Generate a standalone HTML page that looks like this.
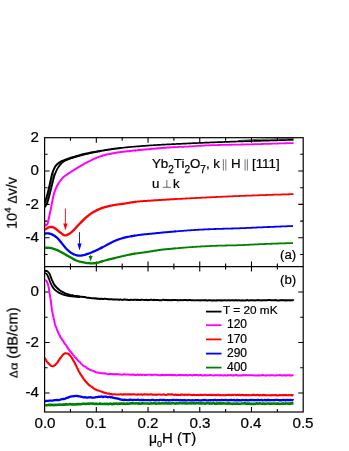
<!DOCTYPE html>
<html><head><meta charset="utf-8"><title>fig</title>
<style>
html,body{margin:0;padding:0;background:#fff;}
body{width:349px;height:451px;position:relative;overflow:hidden;font-family:"Liberation Sans",sans-serif;color:#000;}
.t{position:absolute;will-change:transform;-webkit-text-stroke:0.22px #000;white-space:nowrap;line-height:1;font-family:"Liberation Sans",sans-serif;}
.t sub{-webkit-text-stroke:0.25px #000;font-size:10px;vertical-align:baseline;position:relative;top:5px;line-height:0;}
.r{transform-origin:0 0;transform:rotate(-90deg) translateY(-84.65%);}
.pp{color:#555;font-size:12px;position:relative;top:-0.5px;}
</style></head><body>
<svg width="349" height="451" viewBox="0 0 349 451" style="position:absolute;left:0;top:0">
<g stroke="#000" stroke-width="1.2" fill="none" shape-rendering="auto">
<rect x="44.60" y="137.70" width="258.60" height="274.30"/>
<path d="M44.60 266.55H303.20"/>
</g>
<g stroke="#000" stroke-width="1.1" fill="none">
<path d="M70.46 137.70v3.00M70.46 263.55v6.00M70.46 412.00v-3.00M96.32 137.70v5.00M96.32 261.55v10.00M96.32 412.00v-5.00M122.18 137.70v3.00M122.18 263.55v6.00M122.18 412.00v-3.00M148.04 137.70v5.00M148.04 261.55v10.00M148.04 412.00v-5.00M173.90 137.70v3.00M173.90 263.55v6.00M173.90 412.00v-3.00M199.76 137.70v5.00M199.76 261.55v10.00M199.76 412.00v-5.00M225.62 137.70v3.00M225.62 263.55v6.00M225.62 412.00v-3.00M251.48 137.70v5.00M251.48 261.55v10.00M251.48 412.00v-5.00M277.34 137.70v3.00M277.34 263.55v6.00M277.34 412.00v-3.00M44.60 254.50h3.00M303.20 254.50h-3.00M44.60 237.80h5.00M303.20 237.80h-5.00M44.60 221.10h3.00M303.20 221.10h-3.00M44.60 204.40h5.00M303.20 204.40h-5.00M44.60 187.70h3.00M303.20 187.70h-3.00M44.60 171.00h5.00M303.20 171.00h-5.00M44.60 154.30h3.00M303.20 154.30h-3.00M44.60 393.00h5.00M303.20 393.00h-5.00M44.60 367.75h3.00M303.20 367.75h-3.00M44.60 342.50h5.00M303.20 342.50h-5.00M44.60 317.25h3.00M303.20 317.25h-3.00M44.60 292.00h5.00M303.20 292.00h-5.00"/>
</g>
<defs><clipPath id="cp"><rect x="45.1" y="130" width="260" height="290"/></clipPath></defs>
<g fill="none" stroke-linecap="butt" stroke-linejoin="round" clip-path="url(#cp)">
<path d="M44.60 247.80L45.43 247.78L46.63 247.74L47.96 247.73L49.20 247.80L50.30 247.97L51.37 248.20L52.43 248.48L53.50 248.80L54.58 249.14L55.65 249.52L56.72 249.94L57.80 250.40L58.87 250.90L59.95 251.45L61.03 252.02L62.10 252.61L63.18 253.22L64.25 253.86L65.33 254.51L66.40 255.13L67.47 255.72L68.55 256.29L69.62 256.86L70.70 257.45L71.78 258.08L72.86 258.74L73.93 259.37L75.00 259.92L76.05 260.37L77.10 260.75L78.15 261.09L79.20 261.40L80.27 261.69L81.34 261.95L82.42 262.18L83.50 262.40L84.58 262.61L85.66 262.80L86.73 262.97L87.80 263.10L88.86 263.20L89.92 263.26L90.97 263.30L92.00 263.30L93.01 263.28L93.99 263.23L94.98 263.14L96.00 263.00L96.99 262.80L97.97 262.56L99.04 262.26L100.30 261.90L101.13 261.66L102.03 261.40" stroke="#008000" stroke-width="2.35"/>
<path d="M101.13 261.66L102.03 261.40L102.99 261.11L103.99 260.81L105.03 260.50L106.10 260.20L107.20 259.90L108.19 259.64L109.23 259.38L110.30 259.12L111.39 258.86L112.50 258.59L113.61 258.33L114.71 258.06L115.80 257.80L116.88 257.54L117.95 257.27L119.03 257.00L120.10 256.73L121.17 256.46L122.25 256.20L123.33 255.95L124.40 255.70L125.48 255.46L126.55 255.22L127.62 254.99L128.70 254.77L129.78 254.55L130.85 254.34L131.93 254.14L133.00 253.95L134.08 253.77L135.15 253.61" stroke="#008000" stroke-width="2.20"/>
<path d="M134.08 253.77L135.15 253.61L136.23 253.46L137.31 253.32L138.39 253.18L139.46 253.04L140.53 252.90L141.60 252.75L142.67 252.60L143.76 252.45L144.85 252.30L145.93 252.14L147.00 251.99L148.04 251.84L149.04 251.70L150.00 251.55L151.14 251.36L152.12 251.19L153.06 251.01L154.03 250.84L155.15 250.65L156.50 250.45L157.32 250.34L158.13 250.22L158.97 250.10L159.84 249.98L160.75 249.86L161.73 249.74L162.78 249.61L163.91 249.48L165.15 249.34L166.51 249.20L168.00 249.05L168.80 248.97L169.65 248.89L170.53 248.81L171.46 248.73L172.41 248.64L173.40 248.55L174.41 248.46L175.45 248.37" stroke="#008000" stroke-width="2.00"/>
<path d="M174.41 248.46L175.45 248.37L176.51 248.28L177.59 248.19L178.68 248.09L179.79 248.00L180.90 247.91L182.02 247.82L183.14 247.73L184.26 247.64L185.38 247.55L186.49 247.47L187.59 247.38L188.68 247.30L189.75 247.22L190.80 247.15L191.79 247.08L192.78 247.01L193.77 246.95L194.75 246.88L195.73 246.82L196.71 246.75L197.68 246.69L198.66 246.63L199.64 246.57L200.62 246.51L201.60 246.45L202.58 246.40L203.57 246.34L204.56 246.29L205.56 246.23L206.56 246.18L207.57 246.13L208.58 246.08L209.61 246.03L210.64 245.99L211.68 245.94L212.74 245.89L213.80 245.85L214.75 245.81L215.71 245.78L216.69 245.74L217.67 245.71L218.66 245.68L219.65 245.66L220.66 245.63L221.66 245.61L222.68 245.58L223.70 245.56L224.72 245.54L225.75 245.51L226.77 245.49L227.80 245.47L228.83 245.45L229.86 245.43L230.89 245.40L231.92 245.38L232.95 245.36L233.97 245.33L234.99 245.30L236.00 245.28L237.01 245.25L238.02 245.22L239.01 245.18L240.00 245.15L241.02 245.11L242.03 245.07L243.04 245.03L244.04 244.99L245.03 244.94L246.02 244.90L247.00 244.85L247.98 244.81L248.96 244.76L249.94 244.71L250.92 244.66L251.90 244.61L252.88 244.56L253.86 244.51L254.84 244.46L255.83 244.41L256.82 244.36L257.82 244.31L258.82 244.27L259.83 244.22L260.84 244.17L261.87 244.12L262.90 244.08L263.95 244.03L265.00 243.99L265.97 243.95L266.97 243.91L268.02 243.87L269.09 243.83L270.19 243.79L271.31 243.75L272.45 243.71L273.60 243.67L274.76 243.63L275.93 243.59L277.09 243.55L278.26 243.51L279.42 243.47L280.56 243.43L281.69 243.39L282.80 243.35L283.89 243.32L284.94 243.28L285.97 243.25L286.95 243.21L287.90 243.18L288.80 243.15L289.65 243.12L290.44 243.10L291.18 243.07L291.86 243.05L292.46 243.03L293.00 243.01" stroke="#008000" stroke-width="1.80"/>
<path d="M44.60 233.50L45.43 233.46L46.63 233.39L47.96 233.38L49.20 233.50L50.30 233.77L51.37 234.14L52.43 234.62L53.50 235.20L54.36 235.73L55.22 236.32L56.08 236.97L56.94 237.70L57.80 238.50L58.52 239.25L59.23 240.07L59.95 240.95L60.67 241.85L61.38 242.75L62.10 243.63L62.82 244.50L63.53 245.39L64.25 246.29L64.97 247.16L65.68 247.99L66.40 248.77L67.26 249.63L68.12 250.44L68.98 251.19L69.84 251.88L70.70 252.51L71.78 253.21L72.86 253.81L73.93 254.33L75.00 254.75L76.05 255.08L77.10 255.31L78.15 255.47L79.20 255.55L80.27 255.56L81.34 255.48L82.42 255.34L83.50 255.15L84.58 254.90L85.66 254.57L86.73 254.22L87.80 253.85L88.80 253.50L89.76 253.16L90.78 252.76L92.00 252.25L92.80 251.91L93.65 251.54L94.56 251.14L95.51 250.71L96.50 250.25L97.53 249.76L98.60 249.25L99.47 248.82L100.38 248.37L101.32 247.89L102.29 247.39" stroke="#0000ff" stroke-width="2.35"/>
<path d="M101.32 247.89L102.29 247.39L103.27 246.88L104.26 246.37L105.25 245.85L106.23 245.35L107.20 244.85L108.16 244.35L109.11 243.84L110.07 243.32L111.02 242.81L111.98 242.30L112.93 241.80L113.89 241.32L114.84 240.87L115.80 240.45L116.76 240.06L117.71 239.70L118.67 239.36L119.62 239.04L120.58 238.73L121.53 238.44L122.49 238.17L123.44 237.90L124.40 237.65L125.48 237.38L126.55 237.14L127.62 236.91L128.70 236.71L129.78 236.51L130.85 236.32L131.93 236.14L133.00 235.95L134.08 235.76L135.15 235.59" stroke="#0000ff" stroke-width="2.20"/>
<path d="M134.08 235.76L135.15 235.59L136.23 235.41L137.31 235.24L138.39 235.08L139.46 234.93L140.53 234.79L141.60 234.65L142.59 234.53L143.49 234.44L144.34 234.36L145.21 234.28L146.16 234.20L147.23 234.11L148.49 233.99L150.00 233.85L150.76 233.77L151.55 233.69L152.39 233.61L153.26 233.52L154.17 233.42L155.11 233.32L156.08 233.22L157.08 233.12L158.10 233.01L159.14 232.90L160.21 232.80L161.29 232.69L162.38 232.58L163.49 232.47L164.61 232.36L165.74 232.26L166.87 232.15L168.00 232.05L168.94 231.97L169.89 231.88L170.86 231.80L171.85 231.71L172.85 231.63L173.87 231.54L174.89 231.46L175.93 231.37" stroke="#0000ff" stroke-width="2.00"/>
<path d="M174.89 231.46L175.93 231.37L176.97 231.28L178.03 231.20L179.09 231.11L180.15 231.03L181.22 230.94L182.29 230.86L183.36 230.78L184.44 230.70L185.51 230.62L186.58 230.54L187.64 230.46L188.70 230.39L189.75 230.32L190.80 230.25L191.79 230.19L192.78 230.12L193.77 230.06L194.75 230.00L195.73 229.94L196.71 229.88L197.68 229.83L198.66 229.77L199.64 229.72L200.62 229.67L201.60 229.61L202.58 229.56L203.57 229.51L204.56 229.46L205.56 229.41L206.56 229.37L207.57 229.32L208.58 229.27L209.61 229.23L210.64 229.18L211.68 229.14L212.74 229.09L213.80 229.05L214.75 229.01L215.71 228.98L216.69 228.94L217.67 228.91L218.66 228.88L219.65 228.84L220.66 228.81L221.66 228.78L222.68 228.76L223.70 228.73L224.72 228.70L225.75 228.67L226.77 228.64L227.80 228.62L228.83 228.59L229.86 228.56L230.89 228.53L231.92 228.51L232.95 228.48L233.97 228.45L234.99 228.42L236.00 228.39L237.01 228.35L238.02 228.32L239.01 228.29L240.00 228.25L241.02 228.21L242.03 228.17L243.04 228.13L244.04 228.09L245.03 228.05L246.02 228.01L247.00 227.96L247.98 227.92L248.96 227.88L249.94 227.83L250.92 227.79L251.90 227.74L252.88 227.70L253.86 227.65L254.84 227.61L255.83 227.56L256.82 227.52L257.82 227.47L258.82 227.42L259.83 227.38L260.84 227.33L261.87 227.29L262.90 227.24L263.95 227.19L265.00 227.15L265.97 227.11L266.97 227.07L268.02 227.02L269.09 226.98L270.19 226.93L271.31 226.89L272.45 226.84L273.60 226.79L274.76 226.75L275.93 226.70L277.09 226.65L278.26 226.60L279.42 226.56L280.56 226.51L281.69 226.47L282.80 226.42L283.89 226.38L284.94 226.33L285.97 226.29L286.95 226.25L287.90 226.22L288.80 226.18L289.65 226.15L290.44 226.11L291.18 226.08L291.86 226.06L292.46 226.03L293.00 226.01" stroke="#0000ff" stroke-width="1.80"/>
<path d="M44.60 229.90L45.34 229.38L46.41 228.65L47.50 228.00L48.53 227.48L49.57 227.03L50.60 226.80L52.07 226.97L53.50 227.50L54.39 227.92L55.26 228.46L56.30 229.20L57.06 229.81L57.91 230.54L58.81 231.32L59.72 232.08L60.60 232.76L61.46 233.41L62.32 234.07L63.18 234.67L64.04 235.13L64.90 235.37L65.97 235.31L67.05 234.96L68.12 234.41L69.20 233.78L70.06 233.22L70.92 232.57L71.78 231.86L72.64 231.09L73.50 230.29L74.24 229.56L75.01 228.75L75.78 227.92L76.52 227.09L77.20 226.34L77.80 225.69L78.59 224.86L79.14 224.28L80.00 223.40L80.57 222.82L81.22 222.14L81.95 221.40L82.71 220.62L83.49 219.84L84.26 219.09L85.00 218.40L85.83 217.65L86.67 216.93L87.50 216.23L88.33 215.56L89.17 214.92L90.00 214.30L91.00 213.60L92.00 212.95L93.00 212.34L94.00 211.76L95.00 211.20L96.00 210.66L97.00 210.16L98.00 209.68L99.00 209.22L100.00 208.80L101.00 208.41L102.00 208.05L103.00 207.71" stroke="#ff0000" stroke-width="2.35"/>
<path d="M102.00 208.05L103.00 207.71L104.00 207.40L105.00 207.10L106.00 206.82L107.00 206.57L108.00 206.34L109.00 206.12L110.00 205.90L110.92 205.69L111.76 205.50L112.64 205.32L113.68 205.12L115.00 204.90L115.80 204.78L116.68 204.65L117.63 204.52L118.64 204.38L119.69 204.24L120.76 204.09L121.84 203.95L122.92 203.80L123.98 203.65L125.00 203.50L126.00 203.34L127.00 203.18L128.00 203.01L129.00 202.84L130.00 202.67L131.00 202.50L132.00 202.33L133.00 202.18L134.00 202.03L135.00 201.90L135.96 201.78" stroke="#ff0000" stroke-width="2.20"/>
<path d="M135.00 201.90L135.96 201.78L136.84 201.68L137.68 201.59L138.52 201.51L139.38 201.43L140.28 201.36L141.26 201.28L142.36 201.19L143.59 201.10L145.00 201.00L145.77 200.94L146.59 200.89L147.45 200.83L148.34 200.76L149.27 200.70L150.23 200.64L151.22 200.57L152.23 200.50L153.26 200.44L154.31 200.37L155.38 200.30L156.45 200.23L157.53 200.16L158.61 200.10L159.70 200.03L160.78 199.96L161.85 199.89L162.91 199.83L163.97 199.76L165.00 199.70L165.98 199.64L166.95 199.58L167.92 199.52L168.89 199.47L169.87 199.41L170.84 199.35L171.81 199.29L172.79 199.24L173.77 199.18L174.76 199.12L175.74 199.07" stroke="#ff0000" stroke-width="2.00"/>
<path d="M174.76 199.12L175.74 199.07L176.74 199.01L177.74 198.95L178.74 198.90L179.75 198.84L180.77 198.78L181.80 198.73L182.83 198.67L183.88 198.61L184.93 198.56L186.00 198.50L186.94 198.45L187.90 198.40L188.87 198.35L189.85 198.30L190.84 198.25L191.84 198.20L192.84 198.14L193.85 198.09L194.87 198.04L195.89 197.99L196.91 197.94L197.94 197.89L198.96 197.84L199.99 197.79L201.01 197.74L202.04 197.69L203.06 197.64L204.07 197.59L205.08 197.54L206.08 197.49L207.08 197.44L208.06 197.39L209.04 197.35L210.00 197.30L211.04 197.25L212.05 197.20L213.05 197.15L214.04 197.11L215.02 197.06L215.98 197.02L216.94 196.97L217.89 196.93L218.85 196.88L219.80 196.84L220.75 196.79L221.71 196.75L222.67 196.71L223.64 196.66L224.63 196.62L225.62 196.57L226.63 196.53L227.66 196.48L228.71 196.44L229.78 196.39L230.88 196.35L232.00 196.30L232.90 196.26L233.80 196.22L234.72 196.19L235.64 196.15L236.57 196.11L237.50 196.07L238.45 196.03L239.40 196.00L240.36 195.96L241.33 195.92L242.31 195.88L243.29 195.84L244.28 195.80L245.28 195.76L246.29 195.72L247.30 195.68L248.32 195.64L249.35 195.60L250.38 195.56L251.42 195.53L252.47 195.49L253.53 195.45L254.59 195.41L255.66 195.37L256.73 195.33L257.82 195.29L258.90 195.25L260.00 195.21L260.95 195.18L261.94 195.14L262.96 195.11L264.02 195.07L265.10 195.03L266.21 194.99L267.34 194.96L268.48 194.92L269.65 194.88L270.82 194.84L272.00 194.80L273.19 194.76L274.37 194.72L275.56 194.68L276.74 194.64L277.92 194.61L279.08 194.57L280.23 194.53L281.36 194.49L282.47 194.46L283.55 194.42L284.61 194.39L285.64 194.36L286.63 194.32L287.59 194.29L288.50 194.26L289.37 194.23L290.20 194.21L290.97 194.18L291.69 194.16L292.36 194.14L292.96 194.12L293.50 194.10" stroke="#ff0000" stroke-width="1.80"/>
<path d="M44.50 223.50L45.06 224.62L45.80 225.60L47.20 224.50L47.53 223.93L48.00 222.00L48.15 221.34L48.33 220.57L48.52 219.70L48.73 218.76L48.95 217.75L49.18 216.69L49.42 215.59L49.66 214.46L49.90 213.33L50.14 212.20L50.37 211.08L50.60 210.00L50.81 208.99L51.02 207.94L51.23 206.85L51.45 205.73L51.66 204.60L51.88 203.47L52.09 202.36L52.31 201.26L52.52 200.19L52.72 199.18L52.92 198.21L53.11 197.32L53.30 196.50L53.66 195.00L53.97 193.79L54.26 192.78L54.56 191.85L54.90 190.93L55.30 189.90L55.69 188.94L56.11 187.98L56.55 187.00L57.02 186.03L57.52 185.07L58.04 184.13L58.60 183.20L59.24 182.24L59.98 181.24L60.76 180.22L61.54 179.26L62.26 178.38L62.86 177.65L63.30 177.10L63.31 177.10L63.84 176.74L64.55 176.24L65.40 175.65L66.34 175.00L67.32 174.32L68.29 173.66L69.20 173.04L70.00 172.50L71.11 171.77L72.12 171.11L73.08 170.50L74.03 169.90L75.00 169.30L76.00 168.69L77.00 168.08L78.00 167.48L79.00 166.89L80.00 166.30L81.00 165.71L82.00 165.12L83.00 164.53L84.00 163.96L85.00 163.40L86.00 162.86L87.00 162.32L88.00 161.80L89.00 161.30L90.00 160.80L91.00 160.32L92.00 159.84L93.00 159.38L94.00 158.94L95.00 158.50L96.00 158.07L97.00 157.65L98.00 157.25L99.00 156.86L100.00 156.50L101.00 156.16L102.00 155.84L103.00 155.55" stroke="#ff00ff" stroke-width="2.00"/>
<path d="M102.00 155.84L103.00 155.55L104.00 155.27L105.00 155.00L105.97 154.76L106.90 154.54L107.86 154.34L108.87 154.13L110.00 153.90L110.89 153.72L111.83 153.54L112.81 153.35L113.83 153.15L114.87 152.96L115.93 152.78L117.00 152.60L117.90 152.46L118.77 152.32L119.62 152.19L120.50 152.06L121.44 151.93L122.48 151.80L123.66 151.66L125.00 151.50L125.80 151.41L126.65 151.32L127.55 151.22L128.50 151.13L129.48 151.03L130.50 150.92L131.54 150.82L132.59 150.72L133.66 150.61L134.74 150.51L135.82 150.40" stroke="#ff00ff" stroke-width="2.00"/>
<path d="M134.74 150.51L135.82 150.40L136.89 150.30L137.95 150.20L138.99 150.10L140.00 150.00L141.00 149.90L142.00 149.81L143.00 149.71L144.00 149.61L145.00 149.52L146.00 149.42L147.00 149.33L148.00 149.23L149.00 149.14L150.00 149.05L151.00 148.96L152.00 148.87L153.00 148.78L154.00 148.69L155.00 148.60L156.00 148.51L157.00 148.43L158.00 148.34L159.00 148.25L160.00 148.17L161.00 148.08L162.00 148.00L163.00 147.92L164.00 147.83L165.00 147.76L166.00 147.68L167.00 147.60L168.00 147.53L169.00 147.47L170.00 147.40L171.00 147.34L172.00 147.28L173.00 147.23L174.00 147.18L175.00 147.14" stroke="#ff00ff" stroke-width="2.00"/>
<path d="M174.00 147.18L175.00 147.14L176.00 147.09L177.00 147.05L178.00 147.01L179.00 146.97L180.00 146.93L181.00 146.89L182.00 146.84L183.00 146.80L184.00 146.75L185.00 146.70L186.00 146.65L187.00 146.59L188.00 146.53L189.00 146.47L190.00 146.41L191.00 146.34L192.00 146.28L193.00 146.22L194.00 146.16L195.00 146.09L196.00 146.03L197.00 145.97L198.00 145.91L199.00 145.85L200.00 145.80L200.95 145.75L201.81 145.70L202.60 145.65L203.35 145.60L204.07 145.56L204.80 145.52L205.55 145.47L206.34 145.43L207.20 145.38L208.15 145.34L209.21 145.30L210.40 145.25L211.75 145.20L213.27 145.15L215.00 145.10L215.70 145.08L216.44 145.06L217.20 145.04L217.99 145.02L218.81 145.00L219.66 144.98L220.53 144.96L221.42 144.94L222.34 144.92L223.28 144.90L224.23 144.88L225.21 144.85L226.20 144.83L227.21 144.81L228.23 144.79L229.27 144.77L230.32 144.75L231.38 144.73L232.45 144.70L233.53 144.68L234.62 144.66L235.71 144.64L236.81 144.61L237.91 144.59L239.01 144.57L240.12 144.55L241.22 144.52L242.32 144.50L243.42 144.47L244.52 144.45L245.61 144.43L246.70 144.40L247.77 144.38L248.84 144.35L249.90 144.33L250.95 144.30L251.98 144.28L253.00 144.25L254.01 144.23L255.00 144.20L256.04 144.17L257.11 144.14L258.20 144.11L259.31 144.08L260.43 144.05L261.57 144.01L262.72 143.98L263.88 143.95L265.05 143.91L266.22 143.88L267.40 143.84L268.58 143.80L269.76 143.77L270.94 143.73L272.12 143.69L273.29 143.65L274.46 143.62L275.61 143.58L276.75 143.54L277.88 143.51L278.99 143.47L280.08 143.44L281.16 143.40L282.21 143.37L283.24 143.33L284.24 143.30L285.21 143.27L286.16 143.24L287.07 143.21L287.95 143.18L288.79 143.15L289.59 143.13L290.36 143.10L291.08 143.08L291.75 143.06L292.38 143.04L292.97 143.02L293.50 143.00" stroke="#ff00ff" stroke-width="1.80"/>
<path d="M44.70 202.80L44.90 202.21L45.16 201.44L45.48 200.54L45.83 199.52L46.20 198.41L46.58 197.23L46.95 196.02L47.30 194.80L47.55 193.87L47.80 192.87L48.05 191.82L48.31 190.73L48.57 189.61L48.83 188.49L49.08 187.37L49.33 186.28L49.56 185.23L49.79 184.23L50.00 183.30L50.27 182.12L50.51 181.00L50.74 179.93L50.96 178.93L51.16 177.96L51.37 177.04L51.58 176.16L51.80 175.30L52.16 174.01L52.51 172.84L52.87 171.76L53.23 170.75L53.60 169.80L54.08 168.70L54.56 167.71L55.07 166.81L55.60 166.00L56.37 165.07L57.18 164.30L58.00 163.60L58.83 162.93L59.66 162.33L60.50 161.80L61.47 161.24L63.00 160.60L63.74 160.32L64.58 160.00L65.53 159.65L66.55 159.27L67.65 158.89L68.80 158.49L70.00 158.10L70.88 157.82L71.81 157.52L72.78 157.21L73.78 156.90L74.81 156.59L75.86 156.27L76.91 155.96L77.95 155.66L78.99 155.37L80.00 155.10L81.02 154.84L82.08 154.57L83.16 154.31L84.24 154.06L85.31 153.82L86.36 153.59L87.37 153.37L88.32 153.16L89.20 152.97L90.00 152.80L91.16 152.56L91.88 152.42L92.52 152.31L93.44 152.16L95.00 151.90L95.71 151.78L96.50 151.64L97.36 151.49L98.28 151.33L99.26 151.16L100.28 150.99L101.34 150.80L102.42 150.62L103.52 150.43L104.63 150.25L105.74 150.07L106.84 149.89L107.92 149.72L108.98 149.55L110.00 149.40L111.00 149.25L112.00 149.11L113.00 148.97L114.00 148.83L115.00 148.70L116.00 148.57L117.00 148.44L118.00 148.31L119.00 148.19L120.00 148.07L121.00 147.95" stroke="#000" stroke-width="2"/>
<path d="M120.00 148.07L121.00 147.95L122.00 147.83L123.00 147.72L124.00 147.61L125.00 147.50L126.00 147.40L127.00 147.30L128.00 147.20L129.00 147.11L130.00 147.01L131.00 146.93L132.00 146.84L133.00 146.76L134.00 146.68L135.00 146.60L136.00 146.52L137.00 146.44L138.00 146.36L139.00 146.28L140.00 146.20L141.00 146.12L142.00 146.04L143.00 145.96L144.00 145.88L145.00 145.81L146.00 145.73L147.00 145.66L148.00 145.58L149.00 145.51L150.00 145.44L151.00 145.37L152.00 145.30L153.00 145.23L154.00 145.16L155.00 145.10L156.00 145.04L157.00 144.98L158.00 144.92L159.00 144.86L160.00 144.81L161.00 144.75L162.00 144.70L163.00 144.65L164.00 144.60L165.00 144.55L166.00 144.50L167.00 144.45L168.00 144.40L169.00 144.35L170.00 144.30L171.00 144.25L172.00 144.20L173.00 144.15L174.00 144.11L175.00 144.06L176.00 144.01L177.00 143.97L178.00 143.92L179.00 143.88L180.00 143.83L181.00 143.78L182.00 143.74L183.00 143.69L184.00 143.65L185.00 143.60L186.00 143.55L187.00 143.51L188.00 143.46L189.00 143.41L190.00 143.36L191.00 143.32L192.00 143.27L193.00 143.22L194.00 143.17L195.00 143.13L196.00 143.08L197.00 143.03L198.00 142.99L199.00 142.94L200.00 142.90L200.97 142.86L201.90 142.82L202.79 142.78L203.66 142.74L204.52 142.71L205.38 142.67L206.25 142.64L207.14 142.60L208.06 142.56L209.04 142.53L210.07 142.49L211.17 142.44L212.35 142.40L213.62 142.35L215.00 142.30L215.79 142.27L216.63 142.24L217.50 142.21L218.41 142.17L219.36 142.14L220.34 142.10L221.34 142.07L222.37 142.03L223.42 141.99L224.49 141.95L225.57 141.91L226.67 141.87L227.77 141.83L228.88 141.79L229.98 141.75L231.09 141.71L232.19 141.68L233.28 141.64L234.36 141.60L235.42 141.56L236.47 141.52L237.49 141.49L238.49 141.45L239.46 141.42L240.40 141.39L241.31 141.36L242.17 141.33L243.00 141.30L244.26 141.26L245.40 141.22L246.45 141.19L247.41 141.16L248.30 141.13L249.15 141.11L249.96 141.08L250.76 141.06L251.56 141.04L252.37 141.02L253.22 140.99L254.13 140.97L255.10 140.94L256.15 140.91L257.31 140.88L258.59 140.84L260.00 140.80L260.79 140.78L261.65 140.75L262.55 140.72L263.50 140.70L264.50 140.67L265.54 140.64L266.61 140.60L267.72 140.57L268.85 140.54L270.01 140.50L271.19 140.47L272.38 140.43L273.58 140.40L274.79 140.36L276.00 140.32L277.21 140.29L278.41 140.25L279.61 140.22L280.79 140.18L281.95 140.15L283.09 140.11L284.20 140.08L285.29 140.05L286.33 140.01L287.34 139.98L288.31 139.96L289.22 139.93L290.09 139.90L290.90 139.88L291.65 139.86L292.34 139.83L292.95 139.82L293.50 139.80" stroke="#000" stroke-width="1.7"/>
<path d="M44.70 207.30C45.07 206.70 46.17 205.48 46.90 203.70C47.63 201.92 48.28 199.55 49.10 196.60C49.92 193.65 50.95 189.38 51.80 186.00C52.65 182.62 53.47 178.77 54.20 176.30C54.93 173.83 55.53 172.68 56.20 171.20C56.87 169.72 57.52 168.50 58.20 167.40C58.88 166.30 59.58 165.43 60.30 164.60C61.02 163.77 61.72 163.03 62.50 162.40C63.28 161.77 63.75 161.42 65.00 160.80C66.25 160.18 67.50 159.57 70.00 158.70C72.50 157.83 76.67 156.52 80.00 155.60C83.33 154.68 86.67 153.95 90.00 153.20C93.33 152.45 98.33 151.45 100.00 151.10" stroke="#000" stroke-width="1.8"/>
<path d="M44.90 205.00C45.28 204.08 46.42 202.00 47.20 199.50C47.98 197.00 48.80 193.17 49.60 190.00C50.40 186.83 51.27 183.28 52.00 180.50C52.73 177.72 53.67 174.50 54.00 173.30" stroke="#000" stroke-width="0.8"/>
<path d="M238.00 140.60C240.83 140.42 248.83 139.78 255.00 139.50C261.17 139.22 268.53 139.07 275.00 138.90C281.47 138.73 290.67 138.57 293.80 138.50" stroke="#000" stroke-width="0.6"/>
<path d="M44.60 405.14L45.17 405.30L45.84 405.17L46.61 405.27L47.46 405.25L48.38 404.87L49.38 404.79L50.43 405.24L51.53 404.84L52.67 404.78L53.85 405.18L55.05 404.82L56.26 404.99L57.49 404.72L58.70 404.77L59.91 404.43L61.10 404.68L62.02 404.79L62.97 404.55L63.97 404.65L64.99 404.58L66.03 404.18L67.10 404.57L68.19 404.44L69.28 404.24L70.38 404.04L71.48 404.52L72.57 404.25L73.66 404.37L74.73 404.44L75.78 404.31L76.81 404.41L77.81 404.06L78.77 404.28L79.70 404.04L80.58 404.31L81.42 404.25L82.20 403.76L83.65 403.73L84.87 403.73L85.91 404.12L86.84 403.75L87.69 403.82L88.52 403.58L89.38 403.67L90.33 403.56L91.42 403.52L92.70 403.65L93.54 403.65L94.41 403.85L95.31 403.73L96.25 403.89L97.21 403.87L98.19 403.98L99.20 403.81L100.23 403.53L101.28 403.98L102.35 404.07L103.42 404.06L104.51 403.88L105.60 403.99L106.70 403.71L107.80 404.09L108.90 403.94L110.00 403.77L110.92 403.63L111.80 404.10L112.66 404.17L113.51 403.61L114.34 404.02L115.17 403.77L116.00 403.59L116.85 403.65L117.70 403.91L118.58 403.95L119.49 403.43L120.43 403.74L121.41 403.37L122.44 403.75L123.53 403.49L124.68 403.80L125.89 403.84L127.18 403.53L128.55 403.81L130.00 403.39L130.77 403.24L131.56 403.55L132.38 403.20L133.24 403.30L134.11 403.42L135.01 403.53L135.94 403.26L136.88 403.18L137.84 403.68L138.83 403.34L139.83 403.72L140.84 403.68L141.88 403.37L142.92 403.42L143.97 403.45L145.04 403.52L146.11 403.49L147.20 403.46L148.28 403.50L149.38 403.69L150.47 403.43L151.57 403.38L152.66 403.55L153.76 403.26L154.85 403.30L155.94 403.70L157.03 403.43L158.11 403.44L159.17 403.12L160.23 403.36L161.28 403.46L162.32 403.12L163.34 403.48L164.35 403.49L165.34 403.14L166.31 403.48L167.27 403.38L168.20 403.51L169.11 403.31L170.00 403.52L171.15 403.54L172.25 403.11L173.31 403.13L174.35 403.50L175.35 403.67L176.32 403.24L177.27 403.36L178.20 403.44L179.10 403.28L180.00 403.30L180.88 403.27L181.76 403.30L182.63 403.44L183.50 403.26L184.38 403.31L185.25 403.54L186.14 403.10L187.04 403.42L187.95 403.52L188.89 403.27L189.84 403.22L190.83 403.57L191.84 403.23L192.88 403.20L193.96 403.35L195.08 403.51L196.24 403.15L197.44 403.29L198.69 403.30L200.00 403.60L200.81 403.37L201.64 403.62L202.48 403.21L203.34 403.31L204.22 403.50L205.11 403.65L206.02 403.39L206.94 403.26L207.88 403.20L208.82 403.45L209.78 403.25L210.76 403.62L211.74 403.65L212.73 403.26L213.73 403.32L214.75 403.64L215.77 403.55L216.80 403.65L217.83 403.38L218.87 403.25L219.92 403.36L220.97 403.66L222.03 403.35L223.09 403.40L224.16 403.45L225.22 403.46L226.29 403.46L227.36 403.77L228.44 403.31L229.51 403.23L230.58 403.80L231.65 403.76L232.72 403.83L233.78 403.50L234.85 403.82L235.91 403.81L236.96 403.39L238.01 403.71L239.06 403.77L240.10 403.67L241.13 403.58L242.15 403.45L243.17 403.49L244.18 403.42L245.17 403.33L246.16 403.64L247.14 403.47L248.10 403.78L249.06 403.32L250.00 403.84L251.10 403.72L252.21 403.86L253.33 403.84L254.47 403.85L255.61 403.66L256.77 403.32L257.93 403.76L259.11 403.42L260.28 403.49L261.46 403.71L262.65 403.63L263.83 403.56L265.02 403.88L266.20 403.68L267.38 403.52L268.55 403.47L269.72 403.83L270.89 403.60L272.04 403.78L273.18 403.52L274.31 403.43L275.43 403.63L276.54 403.80L277.63 403.41L278.70 403.79L279.75 403.86L280.79 403.79L281.80 403.80L282.79 403.31L283.76 403.68L284.70 403.82L285.61 403.33L286.50 403.47L287.35 403.46L288.18 403.62L288.97 403.56L289.73 403.59L290.46 403.77L291.14 403.30L291.79 403.33L292.40 403.38L292.97 403.37L293.50 403.34" stroke="#008000" stroke-width="2.6"/>
<path d="M44.60 401.48L45.21 401.36L46.03 400.83L46.99 400.99L48.07 400.79L49.21 400.69L50.38 400.61L51.52 400.69L52.60 400.55L53.66 400.33L54.76 400.14L55.89 400.14L57.02 399.94L58.12 400.10L59.19 400.10L60.19 399.77L61.10 399.45L62.37 399.22L63.46 399.00L64.44 398.78L65.40 398.52L66.40 397.93L67.44 397.84L68.48 397.37L69.52 396.91L70.56 396.57L71.60 396.40L72.65 396.34L73.71 396.04L74.78 396.12L75.84 395.95L76.90 395.85L77.88 396.14L78.77 396.44L79.71 396.31L80.81 396.76L82.20 396.96L83.06 397.30L84.05 397.41L85.13 397.15L86.28 397.53L87.45 397.53L88.62 397.27L89.77 397.43L90.85 397.26L91.84 397.69L92.70 397.60L94.09 397.66L95.20 397.44L96.14 397.18L97.03 397.05L98.00 396.84L99.02 396.53L100.01 396.83L101.01 396.51L102.06 396.64L103.20 397.06L104.25 396.66L105.38 396.72L106.55 396.76L107.73 397.28L108.89 396.92L110.00 396.91L111.05 397.51L112.06 397.20L113.05 397.78L114.03 397.83L115.01 398.10L116.00 398.37L116.98 398.39L117.93 398.81L118.88 398.67L119.85 399.40L120.88 399.51L122.00 399.83L122.75 399.56L123.34 400.00L123.89 400.14L124.50 399.62L125.30 399.78L126.41 399.92L127.93 400.08L130.00 399.75L130.65 399.71L131.34 399.76L132.06 399.99L132.82 400.08L133.61 399.87L134.43 399.86L135.28 399.89L136.16 399.87L137.07 399.91L138.00 399.72L138.96 399.98L139.94 400.27L140.94 399.94L141.96 400.15L143.00 399.80L144.06 400.13L145.13 400.17L146.22 400.13L147.33 400.04L148.44 400.03L149.57 400.13L150.71 400.29L151.86 399.85L153.01 399.82L154.17 400.22L155.33 400.33L156.50 400.09L157.66 400.06L158.83 400.23L160.00 399.91L160.88 399.96L161.76 399.93L162.65 400.16L163.55 400.00L164.45 399.96L165.36 400.24L166.28 400.40L167.20 400.01L168.13 400.26L169.06 400.08L170.00 400.35L170.95 400.19L171.90 400.01L172.86 399.98L173.83 399.87L174.80 400.14L175.78 400.09L176.76 399.97L177.75 400.08L178.75 400.06L179.75 400.34L180.76 399.96L181.78 400.47L182.80 400.17L183.83 400.24L184.86 400.16L185.90 400.39L186.95 400.38L188.00 400.22L189.06 400.18L190.13 400.33L191.20 400.41L192.28 400.14L193.36 400.34L194.45 400.47L195.55 400.18L196.65 400.04L197.76 400.04L198.88 400.33L200.00 400.31L200.91 400.48L201.82 400.41L202.75 400.04L203.68 400.01L204.62 400.05L205.58 400.01L206.54 400.32L207.51 400.41L208.48 400.43L209.46 400.04L210.45 400.41L211.45 400.08L212.45 400.14L213.46 400.32L214.47 399.93L215.49 399.93L216.51 400.38L217.53 400.05L218.56 400.09L219.59 400.22L220.63 400.27L221.66 399.87L222.70 400.06L223.74 400.12L224.78 400.15L225.82 399.98L226.86 400.20L227.91 400.42L228.95 400.08L229.99 400.17L231.03 399.91L232.06 400.00L233.10 400.23L234.13 399.90L235.16 400.36L236.19 400.37L237.21 399.88L238.23 400.39L239.25 400.04L240.26 400.28L241.26 400.27L242.26 399.99L243.25 400.22L244.24 400.20L245.22 400.29L246.19 399.96L247.16 400.26L248.11 400.38L249.06 400.20L250.00 400.12L251.10 399.87L252.21 400.09L253.33 400.01L254.47 400.23L255.61 400.20L256.77 400.13L257.93 399.90L259.11 400.18L260.28 400.17L261.46 399.90L262.65 400.33L263.83 400.19L265.02 399.87L266.20 400.35L267.38 399.88L268.55 399.99L269.72 400.23L270.89 400.15L272.04 400.13L273.18 400.18L274.31 400.07L275.43 399.98L276.54 399.90L277.63 399.84L278.70 400.22L279.75 400.25L280.79 400.12L281.80 400.24L282.79 400.01L283.76 399.96L284.70 400.03L285.61 400.32L286.50 399.82L287.35 400.10L288.18 399.95L288.97 400.26L289.73 400.01L290.46 400.00L291.14 400.04L291.79 400.12L292.40 400.26L292.97 400.01L293.50 400.31" stroke="#0000ff" stroke-width="2.3"/>
<path d="M44.60 357.77L44.98 358.45L45.50 359.19L46.12 360.17L46.78 361.53L47.40 362.34L48.15 362.92L48.93 363.78L49.71 364.67L50.50 365.45L51.56 366.03L52.63 366.26L53.70 366.06L54.48 365.42L55.24 364.98L56.03 364.04L56.90 363.22L57.46 362.50L58.06 361.39L58.69 360.43L59.32 359.74L59.95 358.29L60.55 357.85L61.10 357.13L61.97 356.09L62.77 354.87L63.51 354.28L64.20 353.75L65.30 353.17L66.40 353.39L67.33 353.44L68.35 353.69L69.50 355.02L70.04 355.43L70.62 356.26L71.22 357.20L71.84 357.71L72.46 359.18L73.09 360.15L73.70 361.10L74.17 361.96L74.65 362.82L75.13 363.60L75.61 364.76L76.09 365.44L76.57 366.70L77.05 367.75L77.53 368.57L78.00 369.54L78.52 370.76L79.03 371.68L79.54 372.17L80.04 373.50L80.56 374.32L81.08 374.87L81.63 375.95L82.20 376.74L82.80 377.51L83.43 378.65L84.07 379.73L84.73 380.19L85.40 381.33L86.07 381.99L86.74 382.39L87.40 383.51L88.28 384.20L89.16 385.16L90.04 385.74L90.93 386.41L91.82 386.80L92.70 387.68L93.58 388.36L94.47 388.88L95.36 389.17L96.24 389.87L97.12 390.17L98.00 390.37L99.02 390.76L100.01 391.13L101.01 391.51L102.06 391.79L103.20 392.30L104.20 392.70L105.23 392.90L106.30 393.12L107.44 393.53L108.66 393.58L110.00 393.88L110.74 394.16L111.32 394.03L111.82 393.98L112.33 394.48L112.92 394.43L113.69 394.26L114.69 394.31L116.03 394.45L117.77 394.52L120.00 394.33L120.64 394.21L121.32 394.34L122.04 394.69L122.79 394.32L123.56 394.51L124.37 394.36L125.21 394.37L126.08 394.35L126.97 394.49L127.89 394.36L128.83 394.27L129.79 394.33L130.78 394.36L131.78 394.56L132.80 394.30L133.84 394.28L134.89 394.54L135.96 394.51L137.04 394.69L138.12 394.30L139.22 394.51L140.33 394.51L141.44 394.29L142.56 394.85L143.68 394.40L144.81 394.33L145.93 394.56L147.05 394.37L148.18 394.65L149.30 394.48L150.41 394.35L151.52 394.31L152.62 394.71L153.71 394.44L154.79 394.75L155.87 394.56L156.92 394.85L157.96 394.47L158.99 394.45L160.00 394.46L161.00 394.79L161.99 394.69L162.97 394.52L163.96 394.38L164.93 394.74L165.90 394.92L166.87 394.70L167.84 394.35L168.80 394.37L169.77 394.42L170.73 394.47L171.68 394.40L172.64 394.42L173.60 394.79L174.56 394.94L175.52 394.53L176.48 395.00L177.44 394.71L178.41 394.92L179.38 394.99L180.35 395.02L181.32 394.48L182.30 394.65L183.28 394.84L184.27 395.05L185.26 394.55L186.26 394.68L187.26 395.02L188.28 394.59L189.30 394.76L190.32 394.74L191.36 394.95L192.40 395.11L193.46 394.66L194.52 395.01L195.59 395.01L196.68 395.08L197.77 394.92L198.88 395.15L200.00 394.82L200.91 394.85L201.82 394.75L202.75 395.08L203.68 394.91L204.62 394.79L205.58 394.73L206.54 395.07L207.51 395.00L208.48 395.07L209.46 394.88L210.45 394.94L211.45 394.75L212.45 395.09L213.46 394.68L214.47 394.95L215.49 395.13L216.51 395.09L217.53 394.74L218.56 394.83L219.59 395.20L220.63 395.08L221.66 395.23L222.70 395.23L223.74 394.98L224.78 395.25L225.82 395.16L226.86 394.92L227.91 394.95L228.95 394.77L229.99 394.97L231.03 395.31L232.06 394.80L233.10 395.08L234.13 394.81L235.16 394.80L236.19 395.14L237.21 394.90L238.23 394.79L239.25 394.86L240.26 395.15L241.26 395.12L242.26 394.78L243.25 394.92L244.24 395.36L245.22 394.92L246.19 395.13L247.16 395.04L248.11 395.26L249.06 395.16L250.00 395.27L251.10 395.12L252.21 394.92L253.33 394.92L254.47 394.86L255.61 395.31L256.77 394.89L257.93 394.84L259.11 395.41L260.28 394.95L261.46 395.37L262.65 394.89L263.83 395.12L265.02 394.97L266.20 395.34L267.38 395.22L268.55 395.23L269.72 395.31L270.89 395.38L272.04 395.06L273.18 395.22L274.31 395.13L275.43 394.93L276.54 395.37L277.63 395.22L278.70 395.36L279.75 395.00L280.79 395.20L281.80 395.15L282.79 395.32L283.76 394.93L284.70 395.09L285.61 395.17L286.50 394.93L287.35 395.22L288.18 395.33L288.97 395.14L289.73 395.28L290.46 395.26L291.14 395.02L291.79 395.11L292.40 395.50L292.97 395.10L293.50 395.16" stroke="#ff0000" stroke-width="2.1"/>
<path d="M44.70 279.95L45.56 280.32L46.60 281.00L47.13 282.25L47.62 283.19L48.10 284.82L48.31 285.76L48.51 286.54L48.71 287.83L48.91 288.76L49.10 289.90L49.30 291.45L49.50 292.64L49.66 293.63L49.82 294.33L49.98 295.52L50.14 296.33L50.30 297.72L50.46 298.71L50.61 299.36L50.76 300.76L50.90 301.31L51.05 302.36L51.18 303.82L51.30 304.64L51.42 305.84L51.55 306.98L51.68 307.69L51.83 309.18L52.00 309.97L52.19 311.15L52.40 312.20L52.63 313.54L52.86 314.65L53.10 315.47L53.34 316.43L53.57 317.59L53.80 318.65L54.04 319.53L54.27 320.60L54.49 321.96L54.72 322.89L54.96 324.00L55.22 324.94L55.50 325.83L55.86 326.62L56.25 327.58L56.66 328.74L57.09 329.89L57.54 330.98L58.00 332.03L58.46 332.92L58.91 334.17L59.38 334.77L59.88 335.84L60.45 337.12L61.10 338.18L61.59 338.69L62.13 339.51L62.71 340.74L63.31 341.18L63.93 342.18L64.56 343.35L65.19 344.27L65.80 344.94L66.40 345.73L67.05 346.75L67.70 348.00L68.35 348.71L69.00 349.89L69.65 350.64L70.30 351.61L70.95 351.89L71.60 352.81L72.26 353.54L72.92 354.61L73.58 355.37L74.24 355.99L74.91 357.08L75.57 357.58L76.24 358.46L76.90 359.15L77.66 360.29L78.42 360.86L79.18 361.54L79.94 362.15L80.69 363.11L81.45 363.92L82.20 364.61L83.07 365.48L83.94 366.10L84.80 366.41L85.66 366.96L86.53 367.91L87.40 368.47L88.45 368.92L89.51 369.67L90.58 370.02L91.64 370.33L92.70 370.70L93.76 371.01L94.82 371.74L95.89 372.20L96.95 372.49L98.00 372.48L99.02 372.81L100.01 373.14L101.01 373.21L102.06 373.22L103.20 373.25L104.09 373.43L104.86 373.35L105.68 373.47L106.70 373.89L108.08 374.19L110.00 374.03L110.69 373.98L111.42 373.98L112.19 374.07L113.00 374.31L113.84 374.13L114.71 374.47L115.63 374.02L116.57 374.15L117.54 374.30L118.55 374.27L119.58 374.56L120.65 374.58L121.74 374.67L122.85 374.51L123.99 374.18L125.15 374.54L126.33 374.55L127.54 374.54L128.76 374.44L130.00 374.73L130.84 374.86L131.69 374.39L132.55 374.75L133.42 374.59L134.31 374.69L135.20 374.93L136.11 374.99L137.02 374.81L137.95 374.56L138.89 375.01L139.84 374.58L140.80 374.71L141.77 374.99L142.76 374.70L143.75 374.69L144.76 375.11L145.77 375.12L146.80 374.75L147.84 374.81L148.89 374.76L149.95 374.68L151.02 374.76L152.11 375.21L153.20 374.68L154.31 374.79L155.42 374.78L156.55 374.72L157.69 375.00L158.84 375.14L160.00 375.20L160.88 375.09L161.76 375.21L162.65 374.72L163.55 374.90L164.45 375.31L165.36 374.78L166.28 374.91L167.20 375.04L168.13 374.92L169.06 375.09L170.00 374.80L170.95 374.92L171.90 375.36L172.86 374.88L173.83 375.34L174.80 374.91L175.78 375.40L176.76 375.21L177.75 375.20L178.75 374.90L179.75 374.86L180.76 375.28L181.78 374.94L182.80 374.95L183.83 375.33L184.86 375.37L185.90 374.88L186.95 375.43L188.00 375.18L189.06 375.09L190.13 374.93L191.20 375.10L192.28 375.47L193.36 375.05L194.45 374.96L195.55 374.97L196.65 374.96L197.76 375.10L198.88 375.45L200.00 374.95L200.91 375.02L201.82 375.47L202.75 375.51L203.68 375.50L204.62 375.06L205.58 375.13L206.54 375.49L207.51 375.21L208.48 375.35L209.46 375.12L210.45 374.94L211.45 375.14L212.45 375.38L213.46 375.41L214.47 375.28L215.49 375.22L216.51 375.27L217.53 375.21L218.56 375.27L219.59 375.45L220.63 375.07L221.66 375.31L222.70 375.52L223.74 375.47L224.78 375.07L225.82 375.54L226.86 375.47L227.91 375.07L228.95 375.13L229.99 375.09L231.03 375.01L232.06 375.56L233.10 375.22L234.13 375.50L235.16 375.05L236.19 374.99L237.21 375.51L238.23 375.46L239.25 375.58L240.26 375.40L241.26 375.30L242.26 375.45L243.25 375.05L244.24 375.32L245.22 375.26L246.19 375.08L247.16 375.36L248.11 375.19L249.06 375.30L250.00 375.22L251.10 375.19L252.21 375.22L253.33 375.36L254.47 375.59L255.61 375.57L256.77 375.52L257.93 375.51L259.11 375.18L260.28 375.59L261.46 375.17L262.65 375.08L263.83 375.31L265.02 375.45L266.20 375.21L267.38 375.39L268.55 375.18L269.72 375.59L270.89 375.28L272.04 375.29L273.18 375.33L274.31 375.53L275.43 375.60L276.54 375.32L277.63 375.27L278.70 375.38L279.75 375.05L280.79 375.26L281.80 375.51L282.79 375.47L283.76 375.04L284.70 375.52L285.61 375.23L286.50 375.59L287.35 375.22L288.18 375.13L288.97 375.33L289.73 375.53L290.46 375.26L291.14 375.52L291.79 375.43L292.40 375.22L292.97 375.18L293.50 375.30" stroke="#ff00ff" stroke-width="2.0"/>
<path d="M44.70 272.90C45.07 273.12 46.23 273.32 46.90 274.20C47.57 275.08 48.12 276.80 48.70 278.20C49.28 279.60 49.82 281.27 50.40 282.60C50.98 283.93 51.53 285.08 52.20 286.20C52.87 287.32 53.58 288.42 54.40 289.30C55.22 290.18 56.22 290.87 57.10 291.50C57.98 292.13 58.67 292.58 59.70 293.10C60.73 293.62 62.12 294.20 63.30 294.60C64.48 295.00 65.35 295.22 66.80 295.50C68.25 295.78 69.80 296.02 72.00 296.30C74.20 296.58 78.67 297.05 80.00 297.20" stroke="#000" stroke-width="1.8"/>
<path d="M44.70 270.70C45.13 270.80 46.50 270.78 47.30 271.30C48.10 271.82 48.90 272.80 49.50 273.80C50.10 274.80 50.38 276.05 50.90 277.30C51.42 278.55 52.02 280.03 52.60 281.30C53.18 282.57 53.65 283.78 54.40 284.90C55.15 286.02 56.22 287.12 57.10 288.00C57.98 288.88 58.67 289.47 59.70 290.20C60.73 290.93 62.12 291.77 63.30 292.40C64.48 293.03 65.35 293.50 66.80 294.00C68.25 294.50 69.80 294.95 72.00 295.40C74.20 295.85 78.67 296.48 80.00 296.70" stroke="#000" stroke-width="1.9"/>
<path d="M72.00 295.35L72.59 295.44L73.35 295.71L74.26 295.98L75.28 296.01L76.38 295.98L77.56 296.20L78.77 296.46L80.00 296.76L80.93 296.64L81.93 296.73L82.99 296.98L84.09 297.09L85.21 297.08L86.34 297.46L87.47 297.77L88.57 297.70L89.64 297.91L90.65 298.06L91.60 298.17L92.76 298.33L93.77 298.21L94.69 298.43L95.59 298.25L96.51 298.72L97.51 298.56L98.66 298.70L100.00 299.00L100.81 298.74L101.67 298.75L102.58 299.11L103.53 299.05L104.51 298.85L105.52 298.87L106.56 299.08L107.62 298.96L108.68 299.42L109.76 299.14L110.83 299.23L111.89 299.33L112.95 299.43L113.99 299.43L115.00 299.56L115.97 299.61L116.88 299.53L117.76 299.39L118.61 299.85L119.44 299.73L120.28 299.45L121.13 299.64L122.00 299.82L122.92 299.95L123.89 299.51L124.92 299.49L126.04 299.74L127.25 299.73L128.56 299.98L130.00 299.96L130.76 299.72L131.54 299.78L132.35 299.87L133.17 300.02L134.02 299.69L134.88 299.79L135.76 299.65L136.66 299.93L137.58 299.63L138.52 300.09L139.47 299.89L140.44 299.92L141.42 299.68L142.42 299.76L143.44 299.88L144.47 300.08L145.51 299.93L146.56 299.81L147.63 300.16L148.70 300.01L149.79 299.95L150.89 299.79L152.00 299.85L153.12 300.16L154.25 299.78L155.38 299.98L156.53 300.04L157.68 299.91L158.84 300.13L160.00 300.20L160.88 300.19L161.76 300.13L162.65 299.87L163.55 299.81L164.45 300.00L165.36 299.95L166.28 299.90L167.20 300.24L168.13 299.92L169.06 300.24L170.00 300.30L170.95 299.90L171.90 300.31L172.86 300.06L173.83 299.97L174.80 299.97L175.78 299.90L176.76 300.14L177.75 300.10L178.75 300.34L179.75 300.34L180.76 299.96L181.78 300.14L182.80 300.14L183.83 300.04L184.86 300.09L185.90 300.10L186.95 300.33L188.00 300.16L189.06 300.05L190.13 300.11L191.20 300.23L192.28 300.30L193.36 300.14L194.45 300.38L195.55 300.14L196.65 300.37L197.76 300.35L198.88 300.13L200.00 300.43L200.91 300.25L201.82 300.33L202.75 300.36L203.68 300.37L204.62 300.28L205.57 300.09L206.53 300.46L207.50 300.50L208.48 300.31L209.46 300.36L210.45 300.20L211.44 300.52L212.44 300.41L213.45 300.18L214.46 300.48L215.48 300.57L216.50 300.25L217.52 300.57L218.55 300.31L219.58 300.16L220.61 300.43L221.65 300.24L222.68 300.44L223.72 300.36L224.76 300.12L225.80 300.33L226.84 300.49L227.89 300.31L228.93 300.34L229.97 300.50L231.01 300.29L232.04 300.31L233.08 300.35L234.11 300.47L235.14 300.16L236.17 300.11L237.19 300.44L238.21 300.33L239.23 300.21L240.24 300.50L241.24 300.50L242.24 300.32L243.24 300.55L244.22 300.47L245.21 300.43L246.18 300.20L247.15 300.06L248.11 300.39L249.06 300.42L250.00 300.23L251.10 300.29L252.21 300.33L253.34 300.17L254.48 300.40L255.64 300.33L256.80 300.24L257.97 300.10L259.15 300.33L260.33 300.21L261.52 300.41L262.71 300.14L263.90 300.25L265.09 300.15L266.29 300.25L267.47 300.34L268.66 300.10L269.83 300.08L271.00 300.29L272.17 300.15L273.32 300.30L274.46 300.13L275.59 300.10L276.70 300.32L277.80 300.51L278.88 300.48L279.94 300.31L280.98 300.25L282.01 300.08L283.00 300.19L283.98 300.21L284.93 300.52L285.85 300.11L286.74 300.52L287.61 300.29L288.44 300.27L289.24 300.18L290.00 300.53L290.73 300.14L291.43 300.34L292.08 300.31L292.70 300.15L293.27 300.16L293.80 300.54" stroke="#000" stroke-width="2.0"/>
</g>
<path d="M65.40 208.50L65.40 223.90" stroke="#ff0000" stroke-width="0.90" fill="none"/><path d="M63.30 223.40L67.50 223.40L65.40 230.40Z" fill="#ff0000"/>
<path d="M79.50 232.20L79.50 244.10" stroke="#0000ff" stroke-width="0.90" fill="none"/><path d="M77.40 243.60L81.60 243.60L79.50 250.60Z" fill="#0000ff"/>
<path d="M90.60 255.20L90.60 256.40" stroke="#008000" stroke-width="1.20" fill="none"/><path d="M88.60 255.90L92.60 255.90L90.60 261.40Z" fill="#008000"/>
<path d="M206 311.60H221.5" stroke="#000" stroke-width="1.8"/>
<path d="M206 325.20H221.5" stroke="#ff00ff" stroke-width="1.8"/>
<path d="M206 339.40H221.5" stroke="#ff0000" stroke-width="1.8"/>
<path d="M206 353.60H221.5" stroke="#0000ff" stroke-width="1.8"/>
<path d="M206 367.60H221.5" stroke="#008000" stroke-width="1.8"/>
<path d="M223.4 159.2V170.6M225.8 159.2V170.6M245.1 159.2V170.6M247.4 159.2V170.6" stroke="#555" stroke-width="0.8" fill="none"/>
<path d="M162.8 187.3H170.9M166.85 180V187.3" stroke="#444" stroke-width="0.8" fill="none"/>
</svg>
<div class="t" style="left:44.50px;top:415.13px;font-size:15.2px;transform:translateX(-50%);">0.0</div>
<div class="t" style="left:96.22px;top:415.13px;font-size:15.2px;transform:translateX(-50%);">0.1</div>
<div class="t" style="left:147.94px;top:415.13px;font-size:15.2px;transform:translateX(-50%);">0.2</div>
<div class="t" style="left:199.66px;top:415.13px;font-size:15.2px;transform:translateX(-50%);">0.3</div>
<div class="t" style="left:251.38px;top:415.13px;font-size:15.2px;transform:translateX(-50%);">0.4</div>
<div class="t" style="left:303.10px;top:415.13px;font-size:15.2px;transform:translateX(-50%);">0.5</div>
<div class="t" style="left:39.40px;top:129.03px;font-size:15.2px;transform:translateX(-100%);">2</div>
<div class="t" style="left:39.40px;top:162.43px;font-size:15.2px;transform:translateX(-100%);">0</div>
<div class="t" style="left:39.40px;top:195.83px;font-size:15.2px;transform:translateX(-100%);">-2</div>
<div class="t" style="left:39.40px;top:229.23px;font-size:15.2px;transform:translateX(-100%);">-4</div>
<div class="t" style="left:39.40px;top:283.33px;font-size:15.2px;transform:translateX(-100%);">0</div>
<div class="t" style="left:39.40px;top:333.83px;font-size:15.2px;transform:translateX(-100%);">-2</div>
<div class="t" style="left:39.40px;top:384.33px;font-size:15.2px;transform:translateX(-100%);">-4</div>
<div class="t" style="left:148.90px;top:431.05px;font-size:14px;">&#956;</div>
<div class="t" style="left:157.00px;top:440.08px;font-size:9px;-webkit-text-stroke:0.25px #000;">0</div>
<div class="t" style="left:162.40px;top:430.10px;font-size:15px;">H (T)</div>
<div class="t r" style="left:17.4px;top:228.9px;font-size:14.5px">10<span style="font-size:9.5px;position:relative;top:-6.5px;-webkit-text-stroke:0.3px #000;">4</span> <span style="font-size:12px">&#916;</span>v/v</div>
<div class="t r" style="left:17.6px;top:377.7px;font-size:14.7px"><span style="font-size:11.3px">&#916;<span style="display:inline-block;transform:scaleX(1.15);transform-origin:0 50%;margin-right:1px">&#945;</span></span> (dB/cm)</div>
<div class="t" style="left:152.4px;top:157.04px;font-size:13.3px">Yb<sub>2</sub>Ti<sub>2</sub>O<sub>7</sub>, k</div>
<div class="t" style="left:230.8px;top:157.04px;font-size:13.3px">H</div>
<div class="t" style="left:251.6px;top:157.04px;font-size:13.3px">[111]</div>
<div class="t" style="left:152.4px;top:176.64px;font-size:13.3px">u</div>
<div class="t" style="left:173.2px;top:176.64px;font-size:13.3px">k</div>
<div class="t" style="left:279.60px;top:248.13px;font-size:13.2px;">(a)</div>
<div class="t" style="left:279.60px;top:273.44px;font-size:13.3px;">(b)</div>
<div class="t" style="left:222.60px;top:304.61px;font-size:11.8px;">T = 20 mK</div>
<div class="t" style="left:227.10px;top:318.44px;font-size:12px;">120</div>
<div class="t" style="left:227.10px;top:332.64px;font-size:12px;">170</div>
<div class="t" style="left:227.10px;top:346.84px;font-size:12px;">290</div>
<div class="t" style="left:227.10px;top:360.84px;font-size:12px;">400</div>
</body></html>
